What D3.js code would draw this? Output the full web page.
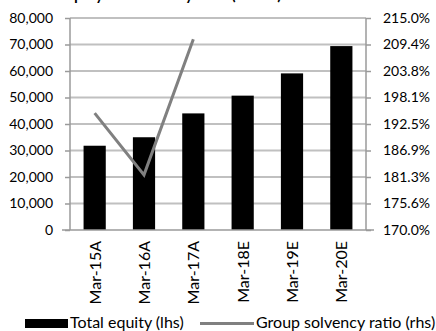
<!DOCTYPE html>
<html><head><meta charset="utf-8">
<script src="https://cdn.jsdelivr.net/npm/d3@7"></script>
<style>
html,body{margin:0;padding:0;background:#fff;}
svg{display:block;font-family:Lato, "Open Sans", sans-serif;}
</style></head>
<body>
<script>
const categories = ["Mar-15A","Mar-16A","Mar-17A","Mar-18E","Mar-19E","Mar-20E"];
const totalEquity = [31800, 35000, 44000, 50700, 59100, 69400];
const solvencyCats = ["Mar-15A","Mar-16A","Mar-17A"];
const solvencyRatio = [194.8, 181.7, 210.5];
const leftTicks = [0,10000,20000,30000,40000,50000,60000,70000,80000];
const rightTicks = [170.0,175.625,181.25,186.875,192.5,198.125,203.75,209.375,215.0];
const titleText = "Total equity and solvency ratio (INR m)";
const legendLabels = ["Total equity (lhs)","Group solvency ratio (rhs)"];

const W = 436, H = 331;
const m = {left:70, right:70, top:18, bottom:101};
const svg = d3.select("body").append("svg").attr("width",W).attr("height",H);

const x = d3.scaleBand().domain(categories).range([m.left, W - m.right]).paddingInner(0.55).paddingOuter(0.275);
const yL = d3.scaleLinear().domain([0,80000]).range([H - m.bottom, m.top]);
const yR = d3.scaleLinear().domain([170,215]).range([H - m.bottom, m.top]);

// title (mostly clipped above, as in the reference)
svg.append("text").attr("x",25).attr("y",-0.5).attr("font-weight","bold").attr("font-size",15).attr("fill","#000").text(titleText);

// gridlines
svg.append("g").selectAll("line").data(leftTicks.slice(1)).join("line")
  .attr("x1",m.left).attr("x2",W-m.right).attr("y1",d=>yL(d)).attr("y2",d=>yL(d))
  .attr("stroke","#c0c0c0").attr("stroke-width",2);

// left axis
const axL = svg.append("g").attr("transform",`translate(${m.left},0)`)
  .call(d3.axisLeft(yL).tickValues(leftTicks).tickSize(5).tickPadding(12).tickFormat(d3.format(",")));
// right axis
const axR = svg.append("g").attr("transform",`translate(${W-m.right},0)`)
  .call(d3.axisRight(yR).tickValues(rightTicks).tickSize(5).tickPadding(12).tickFormat(d=>d3.format(".1f")(d)+"%"));
[axL,axR].forEach(a=>{
  a.select(".domain").attr("stroke","#9a9a9a").attr("stroke-width",1.5).attr("d",`M0,${m.top}V${H-m.bottom}`);
  a.selectAll(".tick line").attr("stroke","#9a9a9a").attr("stroke-width",1.5);
  a.selectAll("text").attr("font-size",14).attr("fill","#000").attr("font-family","Lato");
});

// bars
svg.append("g").selectAll("rect").data(categories).join("rect")
  .attr("x",d=>x(d)).attr("width",x.bandwidth())
  .attr("y",(d,i)=>yL(totalEquity[i])).attr("height",(d,i)=>yL(0)-yL(totalEquity[i]))
  .attr("fill","#000");

// bottom axis line
svg.append("line").attr("x1",m.left-8).attr("x2",W-m.right+8).attr("y1",yL(0)).attr("y2",yL(0))
  .attr("stroke","#9a9a9a").attr("stroke-width",1.5);

// solvency line
const line = d3.line().x((d,i)=>x(solvencyCats[i])+x.bandwidth()/2).y(d=>yR(d));
svg.append("path").datum(solvencyRatio).attr("d",line).attr("fill","none")
  .attr("stroke","#808080").attr("stroke-width",3);

// x labels
svg.append("g").selectAll("text").data(categories).join("text")
  .attr("transform",d=>`translate(${x(d)+x.bandwidth()/2+6},${yL(0)+11}) rotate(-90)`)
  .attr("text-anchor","end").attr("font-size",16).attr("fill","#000").text(d=>d);

// legend
const lg = svg.append("g");
lg.append("rect").attr("x",25).attr("y",319).attr("width",43).attr("height",9).attr("fill","#000");
lg.append("text").attr("x",70).attr("y",328).attr("font-size",16).attr("fill","#000").text(legendLabels[0]);
lg.append("line").attr("x1",200).attr("x2",254).attr("y1",323.5).attr("y2",323.5).attr("stroke","#808080").attr("stroke-width",3);
lg.append("text").attr("x",256).attr("y",328).attr("font-size",16).attr("fill","#000").text(legendLabels[1]);
</script>
</body></html>
